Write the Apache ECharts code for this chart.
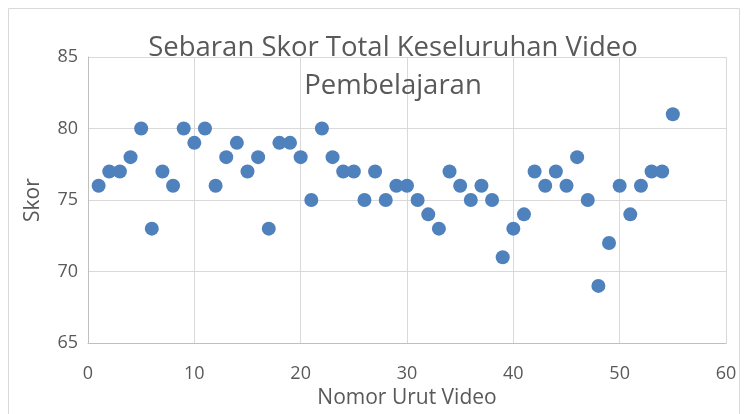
<!DOCTYPE html>
<html><head><meta charset="utf-8">
<script src="https://cdn.jsdelivr.net/npm/echarts@6/dist/echarts.min.js"></script>
<style>html,body{margin:0;padding:0;background:#fff}#c{width:748px;height:414px}</style>
</head><body><div id="c"></div>
<script>
const videoNumbers = [1,2,3,4,5,6,7,8,9,10,11,12,13,14,15,16,17,18,19,20,21,22,23,24,25,26,27,28,29,30,31,32,33,34,35,36,37,38,39,40,41,42,43,44,45,46,47,48,49,50,51,52,53,54,55];
const scores = [76,77,77,78,80,73,77,76,80,79,80,76,78,79,77,78,73,79,79,78,75,80,78,77,77,75,77,75,76,76,75,74,73,77,76,75,76,75,71,73,74,77,76,77,76,78,75,69,72,76,74,76,77,77,81];
const titleText = 'Sebaran Skor Total Keseluruhan Video\nPembelajaran';
const xAxisName = 'Nomor Urut Video';
const yAxisName = 'Skor';

const chart = echarts.init(document.getElementById('c'));
const font = 'Open Sans';
chart.setOption({
  animation: false,
  backgroundColor: '#fff',
  graphic: [{type:'rect', shape:{x:8.5,y:8.5,width:731,height:420}, style:{fill:'none', stroke:'#d9d9d9', lineWidth:1}}],
  title: {
    text: titleText, left: 388, top: 24, textAlign: 'center',
    textStyle: {fontFamily: font, fontSize: 27.5, fontWeight: 'normal', color: '#595959', lineHeight: 38}
  },
  grid: {left: 88, right: 22, top: 57, bottom: 68},
  xAxis: {
    type: 'value', min: 0, max: 60, interval: 10,
    name: xAxisName, nameLocation: 'middle', nameGap: 39,
    nameTextStyle: {fontFamily: font, fontSize: 21, color: '#595959'},
    axisLine: {show: true, lineStyle: {color: '#bfbfbf'}},
    axisTick: {show: false},
    axisLabel: {fontFamily: font, fontSize: 18, color: '#595959', margin: 22},
    splitLine: {show: true, lineStyle: {color: '#d9d9d9', width: 1}}
  },
  yAxis: {
    type: 'value', min: 65, max: 85, interval: 5,
    name: yAxisName, nameLocation: 'middle', nameGap: 44,
    nameTextStyle: {fontFamily: font, fontSize: 21, color: '#595959'},
    axisLine: {show: true, lineStyle: {color: '#bfbfbf'}},
    axisTick: {show: false},
    axisLabel: {fontFamily: font, fontSize: 18, color: '#595959', margin: 10},
    splitLine: {show: true, lineStyle: {color: '#d9d9d9', width: 1}}
  },
  series: [{
    type: 'scatter', symbolSize: 14,
    itemStyle: {color: '#4f81bd', opacity: 1},
    data: videoNumbers.map((x, i) => [x, scores[i]])
  }]
});
</script></body></html>
